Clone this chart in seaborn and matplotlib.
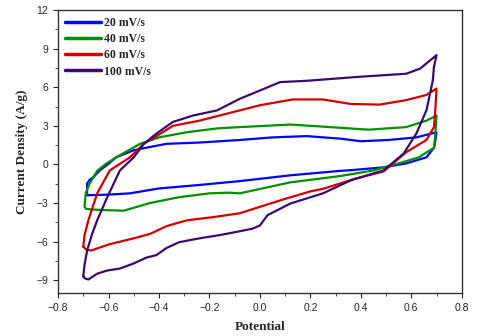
import numpy as np
import pandas as pd
import seaborn as sns
import matplotlib.pyplot as plt
from matplotlib.ticker import MultipleLocator

rates = ["20 mV/s", "40 mV/s", "60 mV/s", "100 mV/s"]
colors = ["#0000ff", "#009000", "#d00000", "#3b0a70"]

# each loop: anodic sweep (-0.7 -> 0.7) then cathodic sweep back
x_20 = [-0.685, -0.685, -0.675, -0.66, -0.635, -0.60, -0.57, -0.50, -0.45, -0.37, -0.24, -0.08, 0.05, 0.185, 0.32, 0.40, 0.51, 0.62, 0.68, 0.70,
        0.695, 0.69, 0.66, 0.58, 0.49, 0.36, 0.32, 0.12, -0.08, -0.24, -0.40, -0.515, -0.60, -0.685]
y_20 = [-2.3, -1.5, -1.2, -1.0, -0.47, 0.05, 0.55, 1.1, 1.3, 1.6, 1.7, 1.9, 2.1, 2.2, 2.0, 1.8, 1.9, 2.1, 2.4, 2.5,
        1.8, 1.3, 0.55, 0.08, -0.23, -0.45, -0.5, -0.85, -1.3, -1.6, -1.87, -2.25, -2.35, -2.4]

x_40 = [-0.695, -0.69, -0.675, -0.645, -0.61, -0.57, -0.475, -0.40, -0.29, -0.17, -0.08, 0.12, 0.24, 0.43, 0.58, 0.66, 0.70,
        0.695, 0.69, 0.63, 0.55, 0.45, 0.32, 0.12, -0.08, -0.12, -0.20, -0.32, -0.435, -0.54, -0.62, -0.67, -0.69, -0.695]
y_40 = [-3.2, -2.2, -1.5, -0.5, 0.05, 0.55, 1.6, 2.1, 2.5, 2.8, 2.9, 3.1, 2.95, 2.7, 2.9, 3.4, 3.8,
        2.3, 1.3, 0.55, 0.08, -0.47, -0.9, -1.4, -2.25, -2.2, -2.25, -2.55, -3.0, -3.6, -3.55, -3.5, -3.45, -3.3]

x_60 = [-0.70, -0.698, -0.695, -0.68, -0.645, -0.595, -0.515, -0.46, -0.385, -0.345, -0.24, -0.08, 0.0, 0.13, 0.25, 0.36, 0.475, 0.58, 0.66, 0.70,
        0.695, 0.69, 0.66, 0.58, 0.49, 0.38, 0.25, 0.20, 0.105, 0.04, -0.08, -0.185, -0.29, -0.37, -0.435, -0.50, -0.595, -0.67, -0.69, -0.70]
y_60 = [-6.4, -6.0, -5.5, -4.35, -2.25, -0.47, 0.55, 1.6, 2.5, 3.0, 3.4, 4.2, 4.6, 5.05, 5.05, 4.7, 4.65, 5.0, 5.4, 5.9,
        4.2, 2.9, 1.9, 0.95, -0.55, -1.1, -1.9, -2.1, -2.65, -3.05, -3.8, -4.1, -4.35, -4.8, -5.4, -5.75, -6.2, -6.7, -6.6, -6.4]

x_100 = [-0.70, -0.695, -0.685, -0.665, -0.645, -0.605, -0.555, -0.50, -0.46, -0.41, -0.345, -0.265, -0.17, -0.08, -0.03, 0.08, 0.185, 0.385, 0.58, 0.635, 0.70,
         0.69, 0.685, 0.66, 0.62, 0.57, 0.49, 0.45, 0.36, 0.25, 0.185, 0.12, 0.03, 0.0, -0.03, -0.08, -0.16, -0.24, -0.32, -0.37, -0.41, -0.45,
         -0.50, -0.555, -0.605, -0.645, -0.68, -0.695, -0.70]
y_100 = [-8.7, -7.8, -6.7, -5.4, -4.35, -2.55, -0.47, 0.55, 1.6, 2.4, 3.3, 3.8, 4.2, 5.1, 5.5, 6.4, 6.5, 6.8, 7.05, 7.45, 8.5,
         7.6, 6.5, 4.2, 2.4, 0.85, -0.47, -0.7, -1.24, -2.25, -2.65, -3.05, -3.95, -4.75, -5.0, -5.2, -5.5, -5.75, -6.05, -6.5, -7.05, -7.25,
         -7.7, -8.1, -8.25, -8.5, -8.95, -8.85, -8.7]

frames = []
for rate, xs, ys in zip(rates, [x_20, x_40, x_60, x_100], [y_20, y_40, y_60, y_100]):
    frames.append(pd.DataFrame({"Potential": xs, "Current": ys, "Rate": rate}))
df = pd.concat(frames, ignore_index=True)

sns.set_style("ticks")
plt.rcParams["font.family"] = ["Liberation Sans", "DejaVu Sans"]

fig = plt.figure(figsize=(4.8, 3.36), dpi=100)
ax = fig.add_axes([0.121, 0.128, 0.841, 0.842])

sns.lineplot(data=df, x="Potential", y="Current", hue="Rate", palette=colors,
             sort=False, estimator=None, units="Rate", linewidth=1.6, ax=ax)
for ln in ax.get_lines():
    ln.set_solid_joinstyle("round")

ax.set_xlim(-0.8, 0.8)
ax.set_ylim(-10, 12)
ax.xaxis.set_major_locator(MultipleLocator(0.2))
ax.xaxis.set_minor_locator(MultipleLocator(0.1))
ax.yaxis.set_major_locator(MultipleLocator(3))
ax.yaxis.set_minor_locator(MultipleLocator(1.5))
ax.tick_params(which="major", length=3.5, width=0.8, labelsize=7.5, direction="out")
ax.tick_params(which="minor", length=2, width=0.6, direction="out")
for s in ax.spines.values():
    s.set_linewidth(1.0)
    s.set_color("#333333")

ax.set_xlabel("Potential", fontsize=9.5, fontweight="bold", family="Liberation Serif", labelpad=6)
ax.set_ylabel("Current Density (A/g)", fontsize=9.5, fontweight="bold", family="Liberation Serif", labelpad=6)

leg = ax.legend(loc="upper left", frameon=False, handlelength=3.0, handletextpad=0.3,
                labelspacing=0.35, borderaxespad=0.2, prop={"family": "Liberation Serif", "weight": "bold", "size": 8.5})
for h in leg.get_lines():
    h.set_linewidth(2.5)

fig.savefig("out.png", dpi=100)
